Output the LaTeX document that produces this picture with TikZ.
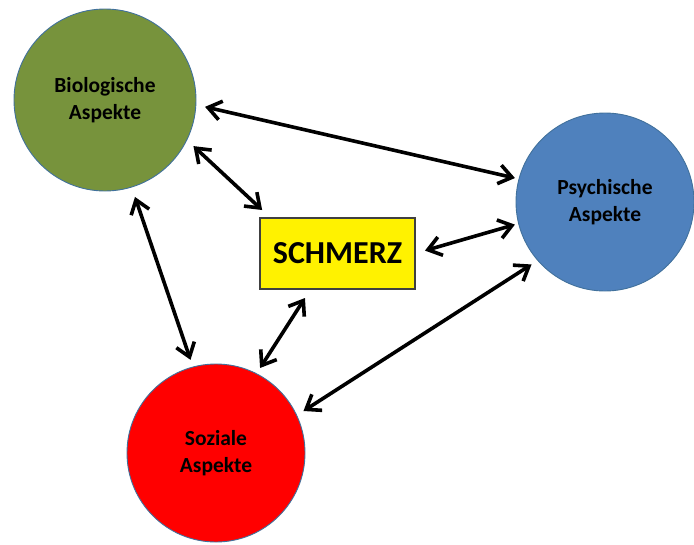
\documentclass[tikz,border=0pt]{standalone}
\usepackage{fontspec}
\setmainfont{Carlito}
\usetikzlibrary{arrows.meta}
\definecolor{biogreen}{HTML}{77933C}
\definecolor{psyblue}{HTML}{4F81BD}
\definecolor{sozred}{HTML}{FF0000}
\definecolor{rimblue}{HTML}{41719C}
\definecolor{boxrim}{HTML}{404040}
\tikzset{
  aspect/.style={circle, draw=rimblue, line width=0.9pt, minimum size=#1, inner sep=0pt, outer sep=0pt,
    align=center, font=\fontsize{21.5}{27}\selectfont\bfseries, text=black},
  painbox/.style={rectangle, draw=boxrim, line width=1.4pt, fill=yellow, minimum width=155pt, minimum height=71pt,
    inner sep=0pt, outer sep=0pt, font=\fontsize{32}{38}\selectfont\bfseries},
  link/.style={line width=3.6pt, black, {Straight Barb[length=13pt,width=19pt]}-{Straight Barb[length=13pt,width=19pt]}}
}
\begin{document}
\begin{tikzpicture}[x=1pt,y=-1pt]
\useasboundingbox (0,0) rectangle (694,544);
\node[aspect=182pt, fill=biogreen] (bio) at (105,100) {Biologische\\Aspekte};
\node[aspect=178pt, fill=psyblue] (psy) at (605,202) {Psychische\\Aspekte};
\node[aspect=178pt, fill=sozred] (soz) at (216,453) {Soziale\\Aspekte};
\node[painbox] (sch) at (337.5,253.5) {SCHMERZ};
\draw[link, shorten <=9.4pt, shorten >=4.2pt] (bio.-3.7) -- (psy.165);
\draw[link, shorten <=9.1pt, shorten >=11.7pt] (bio.-26.6) -- (sch.152.8);
\draw[link, shorten <=10.5pt, shorten >=7.6pt] (bio.-73) -- (soz.105.4);
\draw[link, shorten <=10.4pt, shorten >=3.9pt] (sch.0.5) -- (psy.194.3);
\draw[link, shorten <=10.7pt, shorten >=6.8pt] (sch.233) -- (soz.63.1);
\draw[link, shorten <=7.5pt, shorten >=8.1pt] (psy.221.5) -- (soz.25.8);
\end{tikzpicture}
\end{document}
